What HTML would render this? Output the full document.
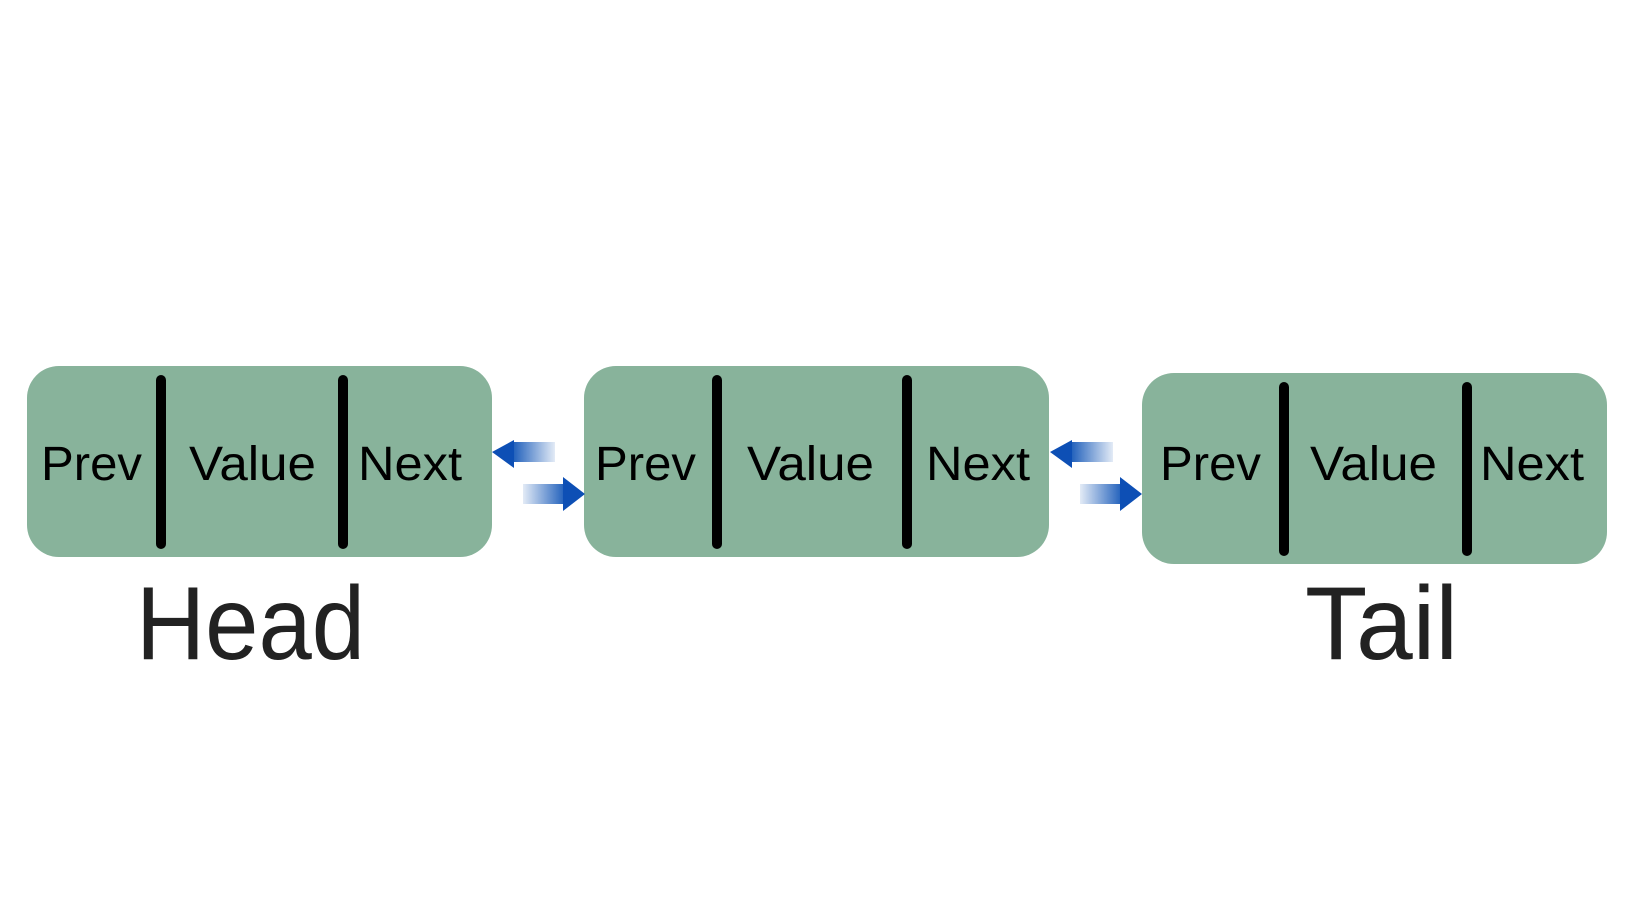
<!DOCTYPE html>
<html><head><meta charset="utf-8"><style>html,body{margin:0;padding:0;background:#fff}svg{display:block}</style></head>
<body>
<svg width="1640" height="924" viewBox="0 0 1640 924" xmlns="http://www.w3.org/2000/svg" font-family="Liberation Sans, sans-serif">
<defs>
<linearGradient id="gl" x1="0" x2="1" y1="0" y2="0"><stop offset="0" stop-color="#1f5fbb"/><stop offset="1" stop-color="#e3ebf6"/></linearGradient>
<linearGradient id="gr" x1="0" x2="1" y1="0" y2="0"><stop offset="0" stop-color="#e3ebf6"/><stop offset="1" stop-color="#1f5fbb"/></linearGradient>
</defs>
<rect width="1640" height="924" fill="#fff"/>
<rect x="27" y="366" width="465" height="191" rx="32" fill="#88b39b"/>
<rect x="584" y="366" width="465" height="191" rx="32" fill="#88b39b"/>
<rect x="1142" y="373" width="465" height="191" rx="32" fill="#88b39b"/>
<g stroke="#000" stroke-width="10" stroke-linecap="round">
<line x1="161" y1="380" x2="161" y2="544"/><line x1="343" y1="380" x2="343" y2="544"/>
<line x1="717" y1="380" x2="717" y2="544"/><line x1="907" y1="380" x2="907" y2="544"/>
<line x1="1284" y1="387" x2="1284" y2="551"/><line x1="1467" y1="387" x2="1467" y2="551"/>
</g>
<g font-size="48" fill="#000">
<text x="41" y="480" textLength="101" lengthAdjust="spacingAndGlyphs">Prev</text>
<text x="189" y="480" textLength="127" lengthAdjust="spacingAndGlyphs">Value</text>
<text x="358" y="480" textLength="104" lengthAdjust="spacingAndGlyphs">Next</text>
<text x="595" y="480" textLength="101" lengthAdjust="spacingAndGlyphs">Prev</text>
<text x="747" y="480" textLength="127" lengthAdjust="spacingAndGlyphs">Value</text>
<text x="926" y="480" textLength="104" lengthAdjust="spacingAndGlyphs">Next</text>
<text x="1160" y="480" textLength="101" lengthAdjust="spacingAndGlyphs">Prev</text>
<text x="1310" y="480" textLength="127" lengthAdjust="spacingAndGlyphs">Value</text>
<text x="1480" y="480" textLength="104" lengthAdjust="spacingAndGlyphs">Next</text>
</g>
<g font-size="104" fill="#222">
<text x="136" y="659" textLength="229" lengthAdjust="spacingAndGlyphs">Head</text>
<text x="1305" y="659" textLength="153" lengthAdjust="spacingAndGlyphs">Tail</text>
</g>
<rect x="513" y="442" width="42" height="20" fill="url(#gl)"/>
<polygon points="492,452 514,440 514,468" fill="#0d4fb5"/>
<rect x="523" y="484" width="42" height="20" fill="url(#gr)"/>
<polygon points="585,494 563,477 563,511" fill="#0d4fb5"/>
<rect x="1071" y="442" width="42" height="20" fill="url(#gl)"/>
<polygon points="1050,452 1072,440 1072,468" fill="#0d4fb5"/>
<rect x="1080" y="484" width="42" height="20" fill="url(#gr)"/>
<polygon points="1142,494 1120,477 1120,511" fill="#0d4fb5"/>
</svg>
</body></html>
